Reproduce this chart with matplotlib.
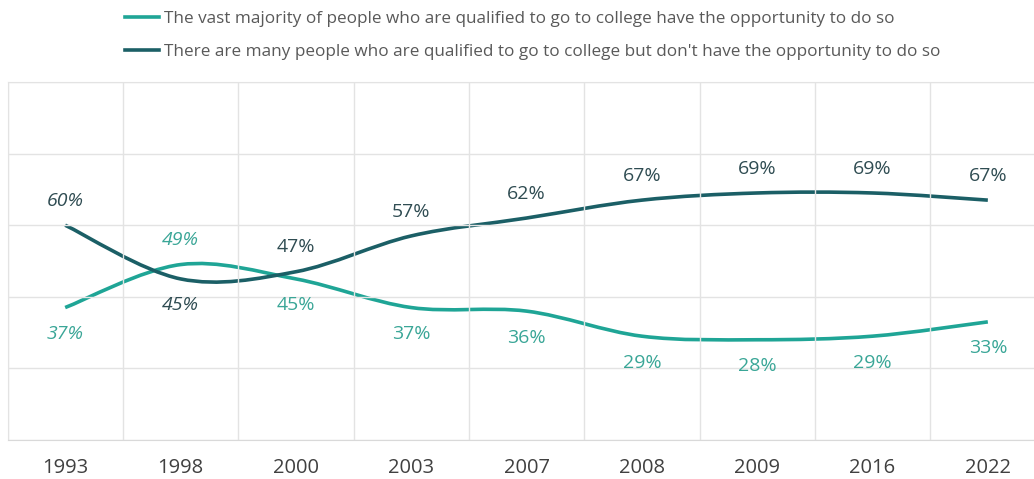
import matplotlib.pyplot as plt
from matplotlib.path import Path
from matplotlib.patches import PathPatch
from matplotlib.lines import Line2D
import numpy as np

# Survey years and shares (%)
years = ["1993", "1998", "2000", "2003", "2007", "2008", "2009", "2016", "2022"]
have_opportunity = [37, 49, 45, 37, 36, 29, 28, 29, 33]
no_opportunity = [60, 45, 47, 57, 62, 67, 69, 69, 67]

label_have = "The vast majority of people who are qualified to go to college have the opportunity to do so"
label_no = "There are many people who are qualified to go to college but don't have the opportunity to do so"

LIGHT = "#1fa596"
DARK = "#1b5f66"
LIGHT_TXT = "#3aa697"
DARK_TXT = "#2f4c52"
GRID = "#e3e3e3"

plt.rcParams["font.family"] = ["Open Sans", "DejaVu Sans"]


def smooth_path(xs, ys):
    """Cubic bezier through points, Excel-style smoothing."""
    pts = np.column_stack([xs, ys]).astype(float)
    verts = [pts[0]]
    codes = [Path.MOVETO]
    n = len(pts)
    for i in range(n - 1):
        p0 = pts[i - 1] if i > 0 else pts[i]
        p1 = pts[i]
        p2 = pts[i + 1]
        p3 = pts[i + 2] if i + 2 < n else pts[i + 1]
        c1 = p1 + (p2 - p0) / 6.0
        c2 = p2 - (p3 - p1) / 6.0
        verts += [c1, c2, p2]
        codes += [Path.CURVE4] * 3
    return Path(verts, codes)


fig = plt.figure(figsize=(10.34, 4.79), dpi=100)
W, H = 1034, 479
ax = fig.add_axes([7.5 / W, 39 / H, 1038 / W, 358 / H])

x = np.arange(len(years))
for vals, col in [(have_opportunity, LIGHT), (no_opportunity, DARK)]:
    ax.add_patch(PathPatch(smooth_path(x, vals), facecolor="none",
                           edgecolor=col, lw=2.6, capstyle="butt"))

ax.set_xlim(-0.5, len(years) - 0.5)
ax.set_ylim(0, 100)
ax.set_yticks([0, 20, 40, 60, 80, 100])
ax.set_yticklabels([])
ax.tick_params(axis="y", length=0)
ax.set_xticks(x)
ax.set_xticklabels(years, fontsize=14.5, color="#404040")
ax.tick_params(axis="x", length=0, pad=13)
ax.set_xticks(np.arange(-0.5, len(years)), minor=True)
ax.tick_params(axis="x", which="minor", length=0)
ax.grid(axis="y", color=GRID, lw=1)
ax.grid(axis="x", which="minor", color=GRID, lw=1)
for s in ["top", "left", "right"]:
    ax.spines[s].set_color(GRID)
ax.spines["bottom"].set_color("#d9d9d9")

# Data labels: first two years are set in italics
for i, (a, b) in enumerate(zip(have_opportunity, no_opportunity)):
    style = "italic" if i < 2 else "normal"
    a_above = a > b
    ax.annotate(f"{a}%", (i, a), xytext=(0, 17.5 if a_above else -19),
                textcoords="offset points", ha="center", va="center",
                fontsize=14, color=LIGHT_TXT, style=style)
    ax.annotate(f"{b}%", (i, b), xytext=(0, 17.5 if not a_above else -19),
                textcoords="offset points", ha="center", va="center",
                fontsize=14, color=DARK_TXT, style=style)

handles = [Line2D([], [], color=LIGHT, lw=2.6), Line2D([], [], color=DARK, lw=2.6)]
fig.legend(handles, [label_have, label_no], loc="upper left",
           bbox_to_anchor=(110 / W, 1.0 + 4 / H), frameon=False,
           fontsize=12.35, labelcolor="#595959", handlelength=1.95,
           handletextpad=0.3, labelspacing=0.95)

fig.savefig("out.png", dpi=100)
